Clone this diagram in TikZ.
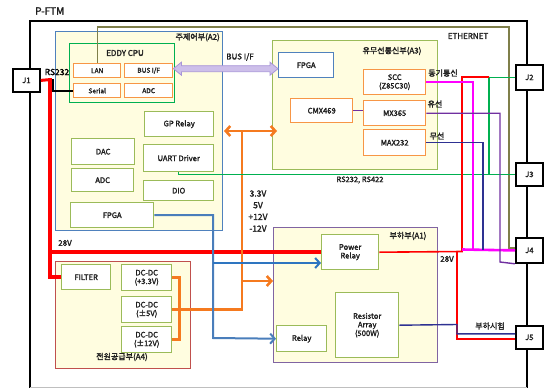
\documentclass[tikz,border=0pt]{standalone}
\usepackage{fontspec}
\setmainfont{Noto Sans CJK KR}[AutoFakeBold=2]
\usetikzlibrary{arrows.meta,calc}
\definecolor{yel}{HTML}{FFFDE0}
\definecolor{gbox}{HTML}{9BBB59}
\definecolor{obox}{HTML}{F79646}
\definecolor{bbox}{HTML}{4F81BD}
\definecolor{rbox}{HTML}{C0504D}
\definecolor{pbox}{HTML}{8064A2}
\definecolor{cpug}{HTML}{00B050}
\definecolor{olivel}{HTML}{7F7F4A}
\definecolor{redl}{HTML}{FF0000}
\definecolor{orl}{HTML}{F57A1F}
\definecolor{bluel}{HTML}{4A7EBB}
\definecolor{blue2}{HTML}{2E75C0}
\definecolor{greenl}{HTML}{00B050}
\definecolor{magl}{HTML}{FF00FF}
\definecolor{purl}{HTML}{7030A0}
\definecolor{navyl}{HTML}{2E3192}
\definecolor{busf}{HTML}{CDBFEA}
\definecolor{busd}{HTML}{A895D8}
\newcommand\mybox[7][gb]{\node[#1,anchor=north west,minimum width={#5-#3},minimum height={#6-#4}] (#2) at (#3,#4) {#7};}
\begin{document}
\begin{tikzpicture}[x=1pt,y=-1pt,
  font=\bfseries\fontsize{7.6}{8.6}\selectfont,
  every node/.style={inner sep=0pt,align=center,text=black!88},
  gb/.style={draw=gbox,fill=white,line width=1.4pt},
  ob/.style={draw=obox,fill=white,line width=1.4pt},
  obs/.style={ob,font=\bfseries\fontsize{6.6}{7.6}\selectfont},
  bb/.style={draw=bbox,fill=white,line width=1.4pt},
  cont/.style={fill=yel,line width=1.3pt},
  jb/.style={draw=black,fill=white,line width=1.8pt},
  tip/.style={-{Straight Barb[length=4.5pt,width=10pt]}},
  tips/.style={{Straight Barb[length=4.5pt,width=10pt]}-{Straight Barb[length=4.5pt,width=10pt]}},
  lab/.style={font=\bfseries\fontsize{8}{9.5}\selectfont}
]
\useasboundingbox (0,0) rectangle (546,388);
% outer frame
\draw[line width=1.6pt] (30,388) -- (30,21) -- (527,21) -- (527,388);
\draw[black!25,line width=0.6pt] (30,387) -- (527,387);
\node[anchor=west,font=\bfseries\fontsize{10}{11}\selectfont] (title) at (35,11) {P-FTM};
% containers
\mybox[cont,draw=bbox]{A2}{55}{31}{222}{230}{}
\mybox[cont,draw=gbox]{A3}{272}{40}{437}{169}{}
\mybox[cont,draw=pbox]{A1}{273}{227}{437}{362}{}
\mybox[cont,draw=rbox]{A4}{55}{261}{190}{368}{}
\node[lab,anchor=north east] (lA2) at (220,33) {주제어부(A2)};
\node[lab] (lA3) at (392,51) {유무선통신부(A3)};
\node[lab] (lA1) at (408,236) {부하부(A1)};
\node[lab] (lA4) at (122,357) {전원공급부(A4)};
\node[lab] (leth) at (468,36) {ETHERNET};
% J boxes
\node[jb,anchor=north west,minimum width=27,minimum height=23] (j1) at (12,68) {J1};
\node[jb,anchor=north west,minimum width=27,minimum height=25] (j2) at (515,64) {J2};
\node[jb,anchor=north west,minimum width=27,minimum height=23] (j3) at (515,162) {J3};
\node[jb,anchor=north west,minimum width=27,minimum height=25] (j4) at (515,237) {J4};
\node[jb,anchor=north west,minimum width=27,minimum height=23] (j5) at (515,325) {J5};
\coordinate (J4west) at (515,248);
% EDDY CPU
\mybox[draw=cpug,line width=1.4pt]{cpu}{69}{43}{174}{102}{}
\node[lab] (lcpu) at (125,53) {EDDY CPU};
\mybox[obs]{lan}{73}{63}{120}{77}{LAN}
\mybox[obs]{busif}{124}{63}{172}{77}{BUS I/F}
\mybox[obs]{serial}{73}{83}{120}{97}{Serial}
\mybox[obs]{adca}{124}{83}{172}{97}{ADC}
\draw[olivel,line width=1.3pt] (lan.north) |- (509,27) |- (J4west);
% A2 inner
\mybox{gprelay}{144}{111}{213}{136}{GP Relay}
\mybox{dac}{71}{138}{134}{164}{DAC}
\mybox{uart}{143}{144}{213}{171}{UART Driver}
\mybox{adcb}{71}{168}{133}{191}{ADC}
\mybox{dio}{143}{180}{213}{200}{DIO}
\mybox{fpgaa}{70}{202}{153}{227}{FPGA}
% A3 inner
\mybox[bb]{fpgab}{278}{52}{333}{77}{FPGA}
\mybox[ob]{scc}{363}{69}{425}{94}{SCC\\(Z85C30)}
\mybox[ob]{cmx}{290}{98}{352}{122}{CMX469}
\mybox[ob]{mx}{363}{100}{425}{125}{MX365}
\mybox[ob]{max}{363}{129}{425}{155}{MAX232}
% A1 inner
\mybox{prelay}{321}{234}{378}{269}{Power\\Relay}
\mybox{resarr}{335}{292}{398}{357}{Resistor\\Array\\(500W)}
\mybox{relay}{276}{325}{326}{351}{Relay}
% A4 inner
\mybox{filter}{61}{264}{110}{289}{FILTER}
\mybox{dca}{121}{264}{171}{290}{DC-DC\\(+3.3V)}
\mybox{dcb}{121}{296}{171}{322}{DC-DC\\(±5V)}
\mybox{dcc}{121}{326}{171}{352}{DC-DC\\(±12V)}
% J1 lines
\draw[black,line width=2pt] (j1.east) -| ($(serial.west)+(-20,0)$) -- (serial.west);
\draw[redl,line width=3pt] (j1.east) -- (51,79.5);
\draw[redl,line width=4.5pt] (50,78) |- (filter.west);
\draw[redl,line width=4.5pt] (48,252) -- (prelay.west |- 48,252);
\node[font=\bfseries\fontsize{8.5}{9}\selectfont,text=black] (lrs) at (57,72) {RS232};
\node[lab] (l28a) at (65,243) {28V};
% BUS I/F arrow
\coordinate (ba) at ($(busif.east)+(0,-2)$);
\coordinate (bb) at ($(fpgab.west |- ba)$);
\filldraw[fill=busf,draw=busd,line width=0.8pt] (ba) -- ++(8,-6.5) -- ++(0,3.5) -- ($(bb)+(-8,-3)$) -- ++(0,-3.5) -- (bb) -- ++(-8,6.5) -- ++(0,-3.5) -- ($(ba)+(8,3)$) -- ++(0,3.5) -- cycle;
\node[lab] (lbus) at (240,57) {BUS I/F};
% orange power
\coordinate (oL) at (224,131);
\coordinate (oR) at (277,131);
\coordinate (oM) at (242,281);
\draw[orl,line width=2.6pt] (dca.east) -| ($(dcc.east)+(7,0)$) -- (dcc.east);
\draw[orl,line width=2.6pt] (dcb.east) -| (242,131);
\draw[orl,line width=2.6pt,tips] (oL) -- (oR);
\draw[orl,line width=2.6pt,tip] (oM) -- (A1.west |- oM);
\node[lab,align=center,font=\bfseries\fontsize{8.5}{11.7}\selectfont] (lvolt) at (258,211) {3.3V\\5V\\+12V\\-12V};
% blue
\draw[bluel,line width=2pt,tip] (fpgaa.east) -| (213,338) -- (relay.west);
\coordinate (bL) at (213,263);
\draw[blue2,line width=2pt,tip] (bL) -- (prelay.west |- bL);
% green
\draw[greenl,line width=1.4pt] (uart.south) |- (j3.west);
\draw[greenl,line width=1.4pt] (j2.west) -| (489,173.5);
\node[font=\bfseries\fontsize{7.5}{8}\selectfont] (lrs4) at (360,180) {RS232, RS422};
% red to J2 and J5
\draw[redl,line width=1.6pt] (prelay.east) -- (462,251.5) |- (489,77);
\draw[redl,line width=1.6pt] (457,251.5) |- ($(j5.west)+(0,1.5)$);
\node[lab] (l28b) at (447,259) {28V};
% navy from resistor
\draw[navyl,line width=1.4pt] (resarr.east) -- (457,324.5) |- ($(j5.west)+(0,-3.5)$);
\node[lab] (lload) at (490,326) {부하시험};
% A3 signal lines
\draw[magl,line width=1.6pt] (scc.east) -| (473,249.5);
\draw[magl,line width=2.6pt] (462,249.5) -- (j4.west);
\draw[purl,line width=1.4pt] (mx.east) -| (500,262) -- (j4.south west);
\draw[purl,line width=1.4pt] (cmx.east) -- (cmx.east -| mx.west);
\draw[navyl,line width=1.4pt] (max.east) -| (483,249.5);
\node[lab] (lsync) at (443,73) {동기통신};
\node[lab] (lwired) at (435,104) {유선};
\node[lab] (lwless) at (437,136) {무선};
\end{tikzpicture}
\end{document}
